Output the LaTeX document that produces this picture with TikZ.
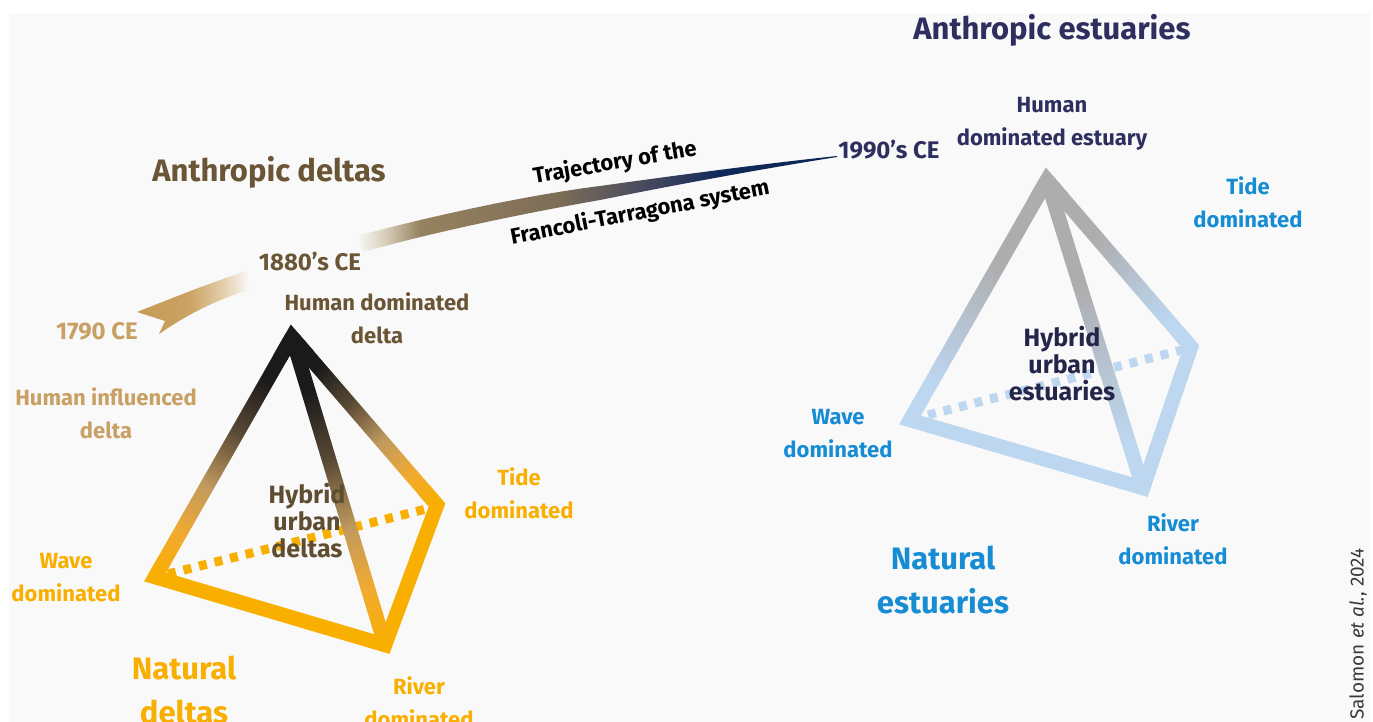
\documentclass[tikz,border=0pt]{standalone}
\usepackage{fontspec}
\setmainfont{Fira Sans}
\usetikzlibrary{calc}
\definecolor{bgc}{HTML}{F9F9F9}
\definecolor{cbrown}{HTML}{6A5535}
\definecolor{ctan}{HTML}{C9A064}
\definecolor{corange}{HTML}{F8AF00}
\definecolor{cnavy}{HTML}{2E2F5E}
\definecolor{cblue}{HTML}{168CD4}
\definecolor{clblue}{HTML}{BDD7F1}
\definecolor{cgray}{HTML}{ADADAD}
\definecolor{chyd}{HTML}{5E4D30}
\definecolor{chye}{HTML}{25254A}
\definecolor{cblk}{HTML}{1A1A1A}
\definecolor{cdb}{HTML}{5A4A35}
\definecolor{ctn}{HTML}{C09A5E}
\definecolor{cor2}{HTML}{F2AA30}
\definecolor{ccred}{HTML}{3A3A3A}
\definecolor{tA}{HTML}{C69A58}
\definecolor{tB}{HTML}{CBA262}
\definecolor{tC}{HTML}{E4D0AE}
\definecolor{sA}{HTML}{D8CCB8}
\definecolor{sB}{HTML}{95825F}
\definecolor{sC}{HTML}{7D6D57}
\definecolor{sD}{HTML}{4B4C5E}
\definecolor{sE}{HTML}{10295A}
\definecolor{sF}{HTML}{0A2452}
\pgfdeclarehorizontalshading{deltaedge}{100bp}{color(0bp)=(cblk); color(25bp)=(cblk); color(34bp)=(cblk); color(45bp)=(cdb); color(56bp)=(ctn); color(66bp)=(cor2); color(75bp)=(corange); color(100bp)=(corange)}
\pgfdeclarehorizontalshading{estedge}{100bp}{color(0bp)=(cgray); color(25bp)=(cgray); color(42bp)=(cgray); color(57bp)=(clblue!60!cgray); color(68bp)=(clblue); color(100bp)=(clblue)}
\pgfdeclarehorizontalshading{trajone}{100bp}{color(0bp)=(tA); color(25bp)=(tA); color(48bp)=(tB); color(64bp)=(tC); color(75bp)=(bgc); color(100bp)=(bgc)}
\pgfdeclarehorizontalshading{trajtwo}{100bp}{color(0bp)=(bgc); color(25bp)=(bgc); color(28bp)=(sA); color(31.6bp)=(sB); color(46bp)=(sC); color(54.4bp)=(sD); color(62.8bp)=(sE); color(75bp)=(sF); color(100bp)=(sF)}
\newdimen\gAx \newdimen\gAy \newdimen\gBx \newdimen\gBy
\newcommand{\gedge}[4]{%
  \pgfextractx{\gAx}{\pgfpointanchor{#1}{center}}%
  \pgfextracty{\gAy}{\pgfpointanchor{#1}{center}}%
  \pgfextractx{\gBx}{\pgfpointanchor{#2}{center}}%
  \pgfextracty{\gBy}{\pgfpointanchor{#2}{center}}%
  \pgfmathsetmacro{\gang}{atan2(\gBy-\gAy,\gBx-\gAx)}%
  \pgfmathsetmacro{\glen}{veclen(\gBx-\gAx,\gBy-\gAy)}%
  \begin{scope}[transform canvas={shift={(#1)},rotate=\gang}]
    \shade[shading=#3] (0pt,-#4) rectangle (\glen pt,#4);
  \end{scope}}
\tikzset{
  lab/.style={inner sep=0pt, align=center, font=\fontsize{22}{33}\selectfont\bfseries},
  year/.style={inner sep=0pt, align=center, font=\fontsize{24}{33}\selectfont\bfseries},
  head/.style={inner sep=0pt, align=center, font=\fontsize{31}{44}\selectfont\bfseries},
  hyb/.style={inner sep=0pt, align=center, font=\fontsize{25}{27}\selectfont\bfseries},
  edgeline/.style={line width=14.5pt, line join=miter},
  dotline/.style={line width=9pt, dash pattern=on 8pt off 8pt},
}
\begin{document}
\begin{tikzpicture}[x=1pt,y=-1pt]
\useasboundingbox (0,0) rectangle (1373,722);
\fill[white] (0,0) rectangle (1373,722);
\fill[bgc] (9,13) rectangle (1370,722);

% ---------- left tetrahedron (deltas)
\coordinate (A) at (292,337);
\coordinate (W) at (155,577);
\coordinate (T) at (437,505);
\coordinate (R) at (385,645);
\coordinate (Wd) at (168,574);
\coordinate (Td) at (430,508);
\draw[dotline, corange] (Wd) -- (Td);
\draw[edgeline, corange] ($(W)!20pt!(A)$) -- (W) -- (R) -- (T) -- ($(T)!20pt!(A)$);
\draw[edgeline, cblk] ($(A)!25pt!(W)$) -- (A) -- ($(A)!25pt!(T)$);
\gedge{A}{W}{deltaedge}{7.25pt}
\gedge{A}{T}{deltaedge}{7.25pt}
\gedge{A}{R}{deltaedge}{7.25pt}

% ---------- right tetrahedron (estuaries)
\coordinate (A2) at (1047,180);
\coordinate (W2) at (910,420);
\coordinate (T2) at (1191,347);
\coordinate (R2) at (1143,488);
\coordinate (W2d) at (928,415);
\coordinate (T2d) at (1186,349);
\draw[dotline, clblue] (W2d) -- (T2d);
\draw[edgeline, clblue] ($(W2)!20pt!(A2)$) -- (W2) -- (R2) -- (T2) -- ($(T2)!20pt!(A2)$);
\draw[edgeline, cgray] ($(A2)!25pt!(W2)$) -- (A2) -- ($(A2)!25pt!(T2)$);
\gedge{A2}{W2}{estedge}{7.25pt}
\gedge{A2}{T2}{estedge}{7.25pt}
\gedge{A2}{R2}{estedge}{7.25pt}

% ---------- trajectory
\shade[shading=trajone] (137,312) .. controls (175,297) and (212,282) .. (247,271)
  -- (249,290) .. controls (215,300) and (185,316) .. (159,334) -- (165,321) -- cycle;
\shade[shading=trajtwo] (357,236) .. controls (420,219) and (520,196) .. (600,186)
  .. controls (700,172) and (780,162) .. (837,156)
  -- (837,157) .. controls (780,166) and (700,180) .. (600,200)
  .. controls (520,214) and (430,233) .. (363,252) -- cycle;

% ---------- labels
\node[head, cbrown] (antd) at (269,172) {Anthropic deltas};
\node[head, cnavy] (ante) at (1052,30) {Anthropic estuaries};
\node[year, cnavy] (y1990) at (889,150) {1990’s CE};
\node[year, cbrown] (y1880) at (310,262) {1880’s CE};
\node[year, ctan] (y1790) at (97,331) {1790 CE};
\node[lab, cbrown] (hdd) at (377,318) {Human dominated\\delta};
\node[lab, ctan] (hid) at (106,413) {Human influenced\\delta};
\node[hyb, chyd] (hud) at (307,521) {Hybrid\\urban\\deltas};
\node[lab, corange] (wd) at (66,578) {Wave\\dominated};
\node[lab, corange] (td) at (519,493) {Tide\\dominated};
\node[lab, corange] (rd) at (419,702) {River\\dominated};
\node[head, corange] (nd) at (184,690) {Natural\\deltas};
\node[lab, cnavy] (hde) at (1052,124) {Human\\dominated estuary};
\node[lab, cblue] (tde) at (1248,202) {Tide\\dominated};
\node[hyb, chye] (hue) at (1062,364) {Hybrid\\urban\\estuaries};
\node[lab, cblue] (wde) at (838,434) {Wave\\dominated};
\node[lab, cblue] (rde) at (1173,539) {River\\dominated};
\node[head, cblue] (ne) at (943,580) {Natural\\estuaries};
\node[lab, black, rotate=10] (traj1) at (615,163) {Trajectory of the};
\node[lab, black, rotate=11] (traj2) at (640,213) {Francoli-Tarragona system};
\node[inner sep=0pt, ccred, rotate=90, anchor=east, font=\fontsize{19}{22}\selectfont] (cred) at (1358,548) {Salomon \textit{et al.}, 2024};
\end{tikzpicture}
\end{document}
